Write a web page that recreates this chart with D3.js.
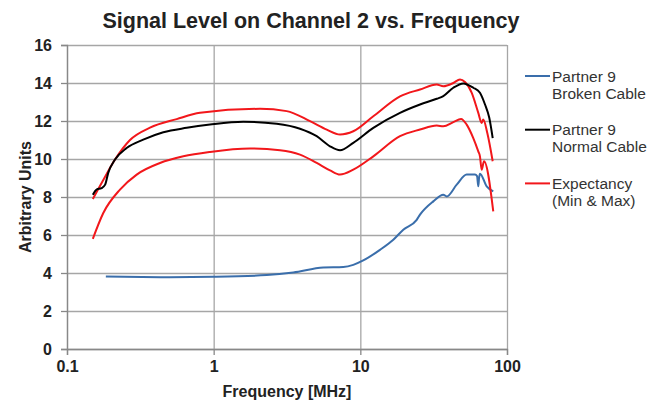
<!DOCTYPE html>
<html>
<head>
<meta charset="utf-8">
<script src="https://cdn.jsdelivr.net/npm/d3@7"></script>
<style>
  body { margin: 0; background: #fff; }
  text { font-family: "Liberation Sans", Arial, sans-serif; }
  .tick text { font-size: 16px; font-weight: bold; fill: #222; }
</style>
</head>
<body>
<div id="chart"></div>
<script>
var svgWidth = 667;
var svgHeight = 400;

var margin = { top: 45, right: 160, bottom: 51, left: 67 };
var width = 507 - margin.left;
var height = 349 - margin.top;

// Values: [frequency in MHz, level]
var brokenCable = [
  [0.184, 3.81], [0.5, 3.78], [0.994, 3.80], [2.30, 3.89], [3.49, 4.03],
  [5.59, 4.29], [7.65, 4.32], [8.95, 4.43], [10.47, 4.66], [13.61, 5.22],
  [16.78, 5.75], [19.63, 6.28], [24.23, 6.8], [25.52, 7.07], [31.45, 7.77],
  [36.78, 8.12], [38.8, 8.03], [45.4, 8.65], [53.1, 9.18], [60.5, 9.18],
  [62.5, 9.1], [63.7, 8.56], [64.5, 9.0], [65.4, 9.23], [72.7, 8.56], [80.6, 8.3]
];

var normalCable = [
  [0.150, 8.12], [0.159, 8.39], [0.172, 8.47], [0.182, 8.65], [0.191, 9.27],
  [0.2125, 9.97], [0.255, 10.58], [0.331, 11.02], [0.4535, 11.41], [0.655, 11.64],
  [0.944, 11.81], [1.592, 11.96], [2.69, 11.85], [3.878, 11.59], [5.04, 11.2],
  [6.21, 10.67], [7.27, 10.46], [8.95, 10.85], [12.26, 11.64], [18.64, 12.43],
  [25.52, 12.87], [33.17, 13.17], [36.78, 13.31], [43.04, 13.75], [50.4, 13.98],
  [58.9, 13.75], [65.4, 13.49], [70.8, 12.87], [75.7, 12.17], [79.9, 11.1]
];

var expectMax = [
  [0.150, 7.9], [0.1768, 8.9], [0.2125, 9.97], [0.2689, 11.0], [0.3681, 11.65],
  [0.5596, 12.1], [0.8068, 12.43], [2.07, 12.64], [3.148, 12.52], [4.54, 11.99],
  [5.90, 11.55], [7.27, 11.29], [8.95, 11.46], [12.26, 12.25], [18.64, 13.3],
  [25.52, 13.66], [33.17, 13.92], [36.78, 13.83], [43.04, 14.0], [47.8, 14.19],
  [51.7, 14.05], [57.4, 13.49], [63.7, 12.43], [67.2, 11.9], [68.9, 12.08],
  [73.4, 11.37], [79.9, 9.88]
];

var expectMin = [
  [0.150, 5.8], [0.1768, 7.16], [0.2298, 8.39], [0.2987, 9.18], [0.4306, 9.79],
  [0.6209, 10.14], [0.944, 10.37], [1.769, 10.55], [2.833, 10.46], [3.878, 10.23],
  [5.04, 9.79], [6.21, 9.4], [7.27, 9.18], [8.95, 9.44], [12.26, 10.14],
  [18.64, 11.2], [25.52, 11.55], [33.17, 11.76], [36.78, 11.72], [43.04, 11.94],
  [48.6, 12.11], [53.1, 11.81], [58.9, 11.1], [63.7, 10.4], [65.4, 10.14],
  [67.2, 9.44], [69.7, 9.88], [80.6, 7.24]
];

var xTicks = [0.1, 1, 10, 100];
var yTicks = [0, 2, 4, 6, 8, 10, 12, 14, 16];

var legendItems = [
  { lines: ["Partner 9", "Broken Cable"], color: "#3a6eab" },
  { lines: ["Partner 9", "Normal Cable"], color: "#000000" },
  { lines: ["Expectancy", "(Min & Max)"], color: "#f2171b" }
];

var svg = d3.select("#chart")
  .append("svg")
  .attr("width", svgWidth)
  .attr("height", svgHeight);

var chartGroup = svg.append("g")
  .attr("transform", `translate(${margin.left}, ${margin.top})`);

var xScale = d3.scaleLog().domain([0.1, 100]).range([0, width]);
var yScale = d3.scaleLinear().domain([0, 16]).range([height, 0]);

// gridlines
chartGroup.append("g")
  .selectAll("line")
  .data(yTicks)
  .enter()
  .append("line")
  .attr("x1", 0).attr("x2", width)
  .attr("y1", d => yScale(d) + 0.5).attr("y2", d => yScale(d) + 0.5)
  .attr("stroke", "#a6a6a6").attr("stroke-width", 1.3);

chartGroup.append("g")
  .selectAll("line")
  .data(xTicks)
  .enter()
  .append("line")
  .attr("y1", 0).attr("y2", height)
  .attr("x1", d => xScale(d) + 0.5).attr("x2", d => xScale(d) + 0.5)
  .attr("stroke", "#a6a6a6").attr("stroke-width", 1.3);

// axes
var bottomAxis = d3.axisBottom(xScale)
  .tickValues(xTicks)
  .tickFormat(d3.format("~g"))
  .tickSize(6)
  .tickPadding(6);
var leftAxis = d3.axisLeft(yScale)
  .tickValues(yTicks)
  .tickSize(6)
  .tickPadding(9);

var gx = chartGroup.append("g")
  .attr("transform", `translate(0, ${height})`)
  .call(bottomAxis);
var gy = chartGroup.append("g")
  .call(leftAxis);

[gx, gy].forEach(function(g) {
  g.select(".domain").attr("stroke", "#888").attr("stroke-width", 1.3);
  g.selectAll(".tick line").attr("stroke", "#888").attr("stroke-width", 1.3);
});

// lines
var line = d3.line()
  .x(d => xScale(d[0]))
  .y(d => yScale(d[1]))
  .curve(d3.curveMonotoneX);

var series = [
  { data: brokenCable, color: "#3a6eab" },
  { data: expectMin, color: "#f2171b" },
  { data: expectMax, color: "#f2171b" },
  { data: normalCable, color: "#000000" }
];

chartGroup.selectAll(".series")
  .data(series)
  .enter()
  .append("path")
  .attr("class", "series")
  .attr("d", d => line(d.data))
  .attr("fill", "none")
  .attr("stroke", d => d.color)
  .attr("stroke-width", 2)
  .attr("stroke-linejoin", "round");

// titles
svg.append("text")
  .attr("x", 311)
  .attr("y", 28)
  .attr("text-anchor", "middle")
  .style("font-size", "21.5px")
  .style("font-weight", "bold")
  .attr("fill", "#222")
  .text("Signal Level on Channel 2 vs. Frequency");

chartGroup.append("text")
  .attr("x", width / 2)
  .attr("y", height + 48)
  .attr("text-anchor", "middle")
  .style("font-size", "16px")
  .style("font-weight", "bold")
  .attr("fill", "#222")
  .text("Frequency [MHz]");

chartGroup.append("text")
  .attr("transform", "rotate(-90)")
  .attr("x", -height / 2)
  .attr("y", -36)
  .attr("text-anchor", "middle")
  .style("font-size", "16px")
  .style("font-weight", "bold")
  .attr("fill", "#222")
  .text("Arbitrary Units");

// legend
var legend = svg.append("g")
  .attr("transform", "translate(525, 76)");

var items = legend.selectAll("g")
  .data(legendItems)
  .enter()
  .append("g")
  .attr("transform", (d, i) => `translate(0, ${i * 53.7})`);

items.append("line")
  .attr("x1", 0).attr("x2", 25)
  .attr("y1", 0).attr("y2", 0)
  .attr("stroke", d => d.color)
  .attr("stroke-width", 2);

items.append("text")
  .attr("x", 27)
  .attr("y", 5.5)
  .style("font-size", "15.5px")
  .attr("fill", "#333")
  .selectAll("tspan")
  .data(d => d.lines)
  .enter()
  .append("tspan")
  .attr("x", 27)
  .attr("dy", (d, i) => i === 0 ? 0 : 17)
  .text(d => d);
</script>
</body>
</html>
